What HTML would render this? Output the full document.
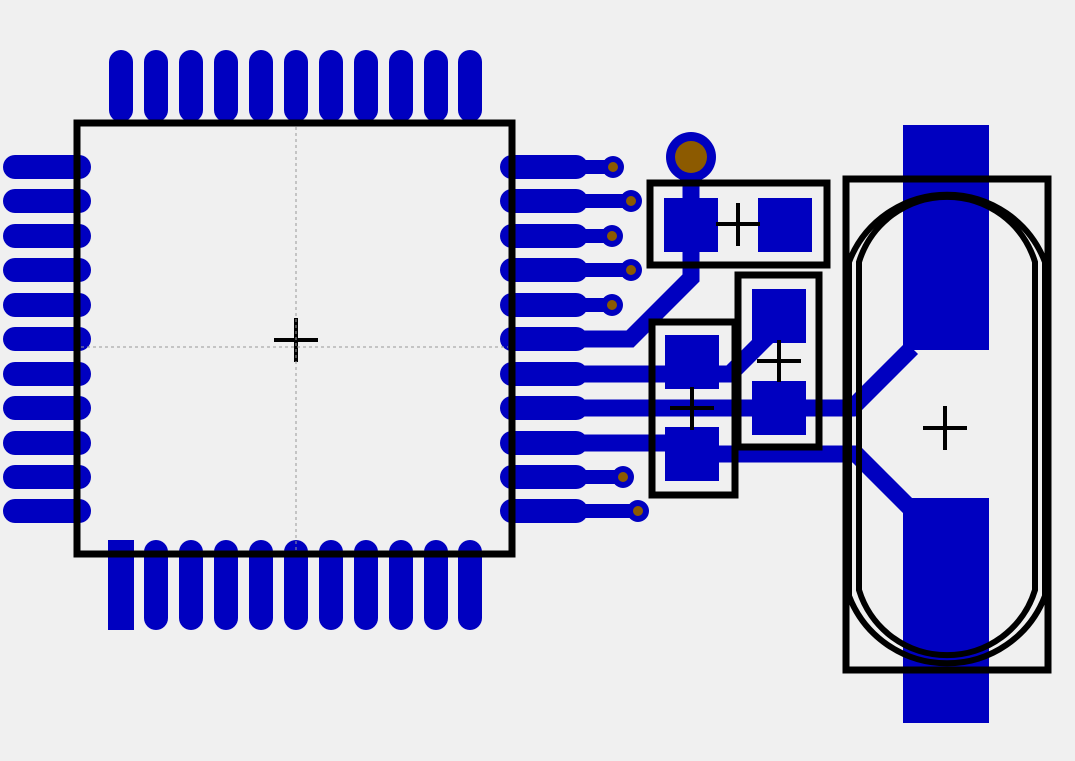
<!DOCTYPE html>
<html><head><style>html,body{margin:0;padding:0;background:#f0f0f0}svg{display:block}</style></head>
<body>
<svg width="1075" height="761" viewBox="0 0 1075 761" xmlns="http://www.w3.org/2000/svg">
<rect width="1075" height="761" fill="#f0f0f0"/>
<g stroke="#0000c0" stroke-width="24" stroke-linecap="round" fill="none">
<line x1="156" y1="552" x2="156" y2="618"/><line x1="191" y1="552" x2="191" y2="618"/><line x1="226" y1="552" x2="226" y2="618"/><line x1="261" y1="552" x2="261" y2="618"/><line x1="296" y1="552" x2="296" y2="618"/><line x1="331" y1="552" x2="331" y2="618"/><line x1="366" y1="552" x2="366" y2="618"/><line x1="401" y1="552" x2="401" y2="618"/><line x1="436" y1="552" x2="436" y2="618"/><line x1="470" y1="552" x2="470" y2="618"/>
<line x1="121" y1="62" x2="121" y2="110"/><line x1="156" y1="62" x2="156" y2="110"/><line x1="191" y1="62" x2="191" y2="110"/><line x1="226" y1="62" x2="226" y2="110"/><line x1="261" y1="62" x2="261" y2="110"/><line x1="296" y1="62" x2="296" y2="110"/><line x1="331" y1="62" x2="331" y2="110"/><line x1="366" y1="62" x2="366" y2="110"/><line x1="401" y1="62" x2="401" y2="110"/><line x1="436" y1="62" x2="436" y2="110"/><line x1="470" y1="62" x2="470" y2="110"/>
<line x1="15" y1="167" x2="79" y2="167"/><line x1="15" y1="201" x2="79" y2="201"/><line x1="15" y1="236" x2="79" y2="236"/><line x1="15" y1="270" x2="79" y2="270"/><line x1="15" y1="305" x2="79" y2="305"/><line x1="15" y1="339" x2="79" y2="339"/><line x1="15" y1="374" x2="79" y2="374"/><line x1="15" y1="408" x2="79" y2="408"/><line x1="15" y1="443" x2="79" y2="443"/><line x1="15" y1="477" x2="79" y2="477"/><line x1="15" y1="511" x2="79" y2="511"/>
<line x1="512" y1="167" x2="576" y2="167"/><line x1="512" y1="201" x2="576" y2="201"/><line x1="512" y1="236" x2="576" y2="236"/><line x1="512" y1="270" x2="576" y2="270"/><line x1="512" y1="305" x2="576" y2="305"/><line x1="512" y1="339" x2="576" y2="339"/><line x1="512" y1="374" x2="576" y2="374"/><line x1="512" y1="408" x2="576" y2="408"/><line x1="512" y1="443" x2="576" y2="443"/><line x1="512" y1="477" x2="576" y2="477"/><line x1="512" y1="511" x2="576" y2="511"/>
</g>
<rect x="108" y="540" width="26" height="90" fill="#0000c0"/>
<!-- traces -->
<g stroke="#0000c0" fill="none" stroke-width="14">
<line x1="576" y1="167" x2="613" y2="167"/><line x1="576" y1="201" x2="631" y2="201"/><line x1="576" y1="236" x2="612" y2="236"/><line x1="576" y1="270" x2="631" y2="270"/><line x1="576" y1="305" x2="612" y2="305"/><line x1="576" y1="477" x2="623" y2="477"/><line x1="576" y1="511" x2="638" y2="511"/>
</g>
<g stroke="#0000c0" fill="none" stroke-width="17">
<polyline points="576,339 630,339 691,278 691,157"/>
<polyline points="576,374 730,374 779,325"/>
<polyline points="576,408 852,408 912,348"/>
<polyline points="576,443 700,443"/>
<polyline points="700,454 856,454 912,510"/>
</g>
<g fill="#0000c0"><circle cx="613" cy="167" r="11"/><circle cx="631" cy="201" r="11"/><circle cx="612" cy="236" r="11"/><circle cx="631" cy="270" r="11"/><circle cx="612" cy="305" r="11"/><circle cx="623" cy="477" r="11"/><circle cx="638" cy="511" r="11"/><circle cx="691" cy="157" r="25"/></g>
<g fill="#8c5a00"><circle cx="613" cy="167" r="5"/><circle cx="631" cy="201" r="5"/><circle cx="612" cy="236" r="5"/><circle cx="631" cy="270" r="5"/><circle cx="612" cy="305" r="5"/><circle cx="623" cy="477" r="5"/><circle cx="638" cy="511" r="5"/><circle cx="691" cy="157" r="16"/></g>
<!-- pads -->
<g fill="#0000c0">
<rect x="664" y="198" width="54" height="54"/><rect x="758" y="198" width="54" height="54"/>
<rect x="665" y="335" width="54" height="54"/><rect x="665" y="427" width="54" height="54"/>
<rect x="752" y="289" width="54" height="54"/><rect x="752" y="381" width="54" height="54"/>
<rect x="903" y="125" width="86" height="225"/><rect x="903" y="498" width="86" height="225"/>
</g>
<!-- silkscreen -->
<g stroke="#000" fill="none" stroke-width="7">
<rect x="77" y="123" width="435" height="431"/>
<rect x="650" y="183" width="177" height="82"/>
<rect x="652" y="322" width="83" height="173"/>
<rect x="738" y="275" width="81" height="172"/>
<rect x="846" y="179" width="202" height="491"/>
</g>
<g stroke="#000" fill="none" stroke-width="6">
<path d="M849,262 A105,105 0 0 1 1045,262 L1045,596 A105,105 0 0 1 849,596 Z"/>
<path d="M859,262 A92,92 0 0 1 1035,262 L1035,590 A92,92 0 0 1 859,590 Z"/>
</g>
<g stroke="#000" stroke-width="4">
<line x1="274" y1="340" x2="318" y2="340"/><line x1="296" y1="318" x2="296" y2="362"/>
<line x1="716" y1="224" x2="760" y2="224"/><line x1="738" y1="203" x2="738" y2="246"/>
<line x1="670" y1="408" x2="714" y2="408"/><line x1="692" y1="387" x2="692" y2="430"/>
<line x1="757" y1="361" x2="801" y2="361"/><line x1="779" y1="340" x2="779" y2="382"/>
<line x1="923" y1="428" x2="967" y2="428"/><line x1="945" y1="406" x2="945" y2="450"/>
</g>
<g stroke="#999" stroke-width="1" stroke-dasharray="3,3">
<line x1="296" y1="127" x2="296" y2="550"/><line x1="81" y1="347" x2="508" y2="347"/>
</g>
</svg>
</body></html>
